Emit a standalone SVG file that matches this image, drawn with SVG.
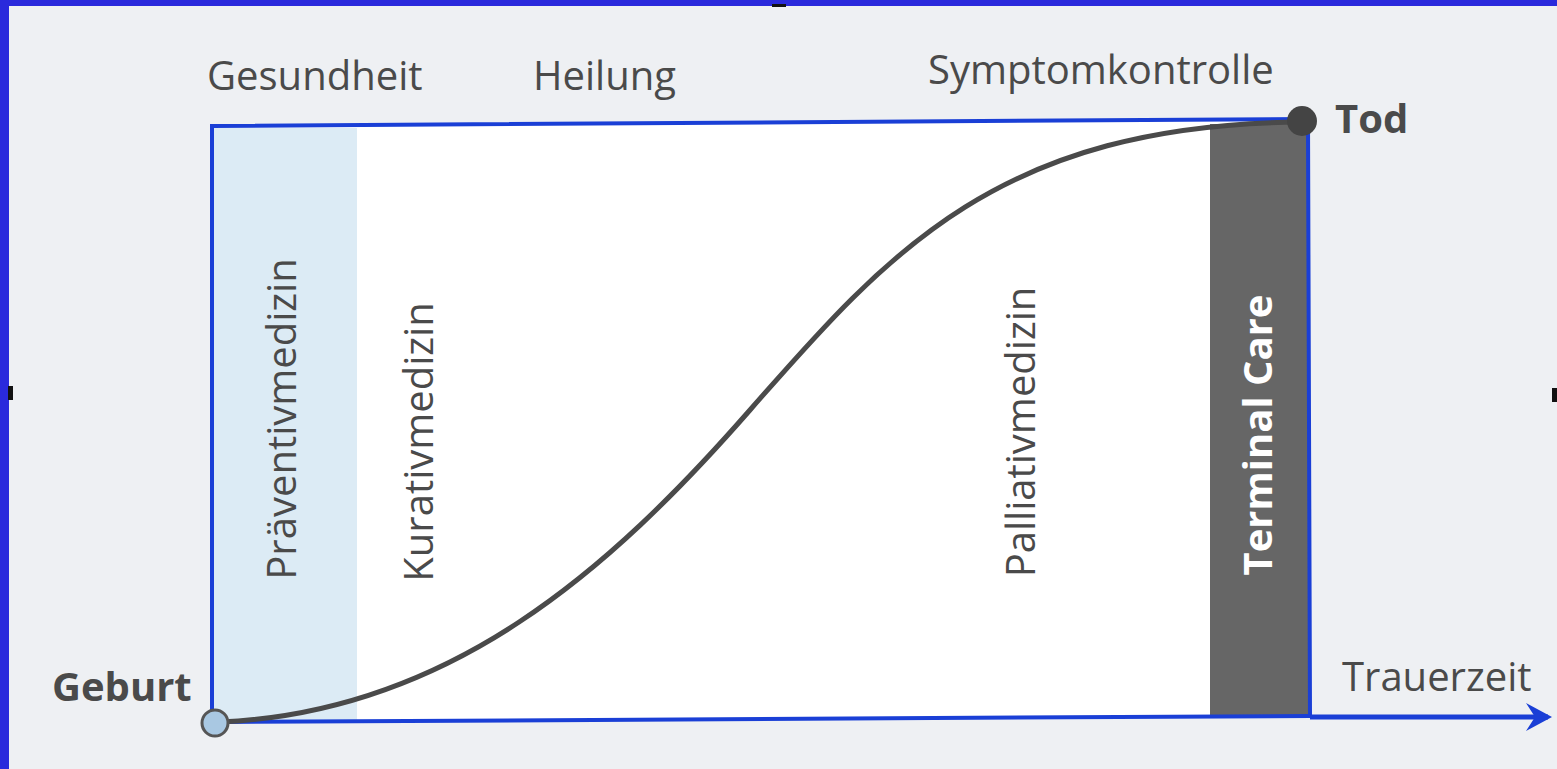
<svg xmlns="http://www.w3.org/2000/svg" width="1557" height="769" viewBox="0 0 1557 769">
<style>
.t{font-family:"Open Sans","Liberation Sans",sans-serif;font-size:40px;fill:#4a4a4a}
.b{font-weight:bold}
.frame{fill:none;stroke:#1a3fd6;stroke-width:4}
</style>
<defs>
<marker id="ah" markerWidth="34" markerHeight="34" refX="26" refY="17" orient="auto" markerUnits="userSpaceOnUse">
<path d="M4,3 L30,17 L4,31 L13,17 Z" fill="#1a3fd6"/>
</marker>
</defs>
<rect x="0" y="0" width="1557" height="769" fill="#eef0f3"/>
<rect x="0" y="0" width="1557" height="6" fill="#2a2adc"/>
<rect x="0" y="0" width="9" height="769" fill="#2a2adc"/>
<rect x="8" y="386" width="5" height="14" fill="#111"/>
<rect x="772" y="4" width="14" height="3" fill="#111"/>
<rect x="1552" y="388" width="5" height="14" fill="#111"/>
<g id="area">
<polygon points="212,126 1308,119 1310,716 212,722" fill="#ffffff"/>
<rect x="214" y="128" width="143" height="592" fill="#dcebf5"/>
<rect x="1210" y="124" width="98" height="593" fill="#666666"/>
</g>
<g id="connectors">
<path class="frame" d="M212,722 L212,126 L1308,119 L1310,718"/>
<path class="frame" d="M222,722 L1310,716"/>
<path class="frame" style="stroke-width:5" d="M1310,717 L1548,717" marker-end="url(#ah)"/>
<path d="M220,722 C450,712 610,570 750,410 C890,250 1000,125 1300,122" fill="none" stroke="#4a4a4a" stroke-width="5"/>
</g>
<g id="geburt">
<circle cx="215" cy="723" r="13" fill="#a9c8e2" stroke="#555" stroke-width="3"/>
<text class="t b" x="52" y="701">Geburt</text>
</g>
<g id="tod">
<circle cx="1302" cy="121" r="15" fill="#444"/>
<text class="t b" x="1335" y="133">Tod</text>
</g>
<g id="labels">
<text class="t" x="207" y="90">Gesundheit</text>
<text class="t" x="533" y="90">Heilung</text>
<text class="t" x="928" y="84">Symptomkontrolle</text>
<text class="t" x="1342" y="691">Trauerzeit</text>
</g>
<g id="praeventiv"><text class="t" text-anchor="middle" transform="translate(296,419) rotate(-90)">Präventivmedizin</text></g>
<g id="kurativ"><text class="t" text-anchor="middle" transform="translate(433,442) rotate(-90)">Kurativmedizin</text></g>
<g id="palliativ"><text class="t" text-anchor="middle" transform="translate(1035,432) rotate(-90)">Palliativmedizin</text></g>
<g id="terminal"><text class="t b" text-anchor="middle" transform="translate(1272,435) rotate(-90)" style="fill:#fff">Terminal Care</text></g>
</svg>
